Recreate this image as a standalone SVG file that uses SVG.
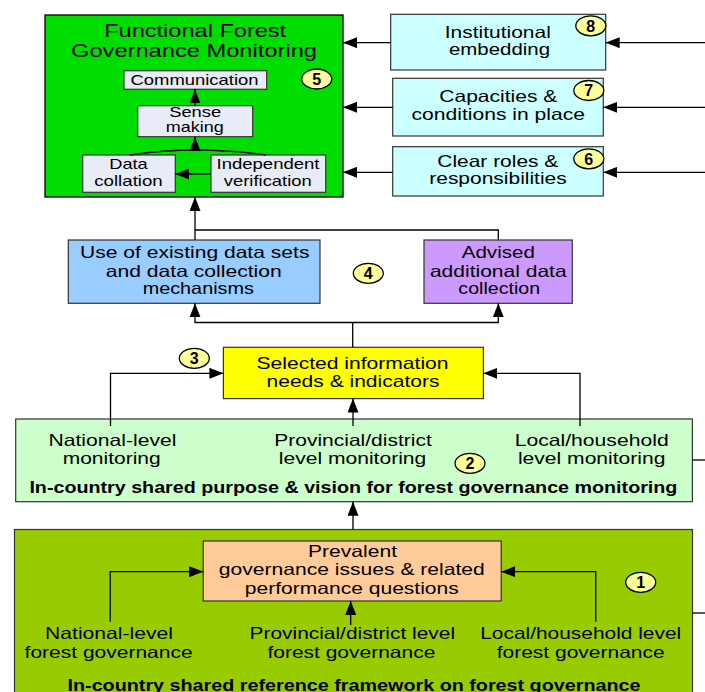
<svg xmlns="http://www.w3.org/2000/svg" width="705" height="692" viewBox="0 0 705 692">
<style>
text{font-family:"Liberation Sans",Arial,sans-serif;fill:#000;text-anchor:middle}
.t{font-size:16.5px}
.h{font-size:18.5px}
.s{font-size:14.5px}
.b{font-size:16px;font-weight:bold}
.n{font-size:16px;font-weight:bold}
.box{stroke:#333;stroke-width:1.2}
.badge{fill:#ffff99;stroke:#000;stroke-width:1.3}
.c{fill:none;stroke:#000;stroke-width:1.3}
</style>
<defs>
<marker id="ah" markerUnits="userSpaceOnUse" markerWidth="14" markerHeight="11" refX="14" refY="5.5" orient="auto">
<path d="M0,0 L14,5.5 L0,11 z" fill="#000"/>
</marker>
</defs>
<rect width="705" height="692" fill="#fff"/>

<g id="node1">
<rect class="box" x="14.5" y="529.5" width="678" height="170" fill="#99cc00"/>
<text class="b" x="354" y="690.5" textLength="573" lengthAdjust="spacingAndGlyphs">In-country shared reference framework on forest governance</text>
<text class="t" x="109" y="639.3" textLength="128" lengthAdjust="spacingAndGlyphs">National-level</text>
<text class="t" x="108.6" y="657.7" textLength="168" lengthAdjust="spacingAndGlyphs">forest governance</text>
<text class="t" x="352.3" y="639.3" textLength="205.5" lengthAdjust="spacingAndGlyphs">Provincial/district level</text>
<text class="t" x="351.4" y="657.7" textLength="168" lengthAdjust="spacingAndGlyphs">forest governance</text>
<text class="t" x="580.7" y="639.3" textLength="201" lengthAdjust="spacingAndGlyphs">Local/household level</text>
<text class="t" x="580.7" y="657.7" textLength="168" lengthAdjust="spacingAndGlyphs">forest governance</text>
<ellipse class="badge" cx="640.7" cy="582.3" rx="15" ry="10"/>
<text class="n" x="640.7" y="588">1</text>
</g>

<g id="node1a">
<rect class="box" x="203.2" y="541" width="298" height="60" fill="#ffcc99"/>
<text class="t" x="352.5" y="556.7" textLength="89" lengthAdjust="spacingAndGlyphs">Prevalent</text>
<text class="t" x="351.8" y="575.3" textLength="266" lengthAdjust="spacingAndGlyphs">governance issues &amp; related</text>
<text class="t" x="351.8" y="594" textLength="214" lengthAdjust="spacingAndGlyphs">performance questions</text>
</g>

<g id="node2">
<rect class="box" x="15.7" y="419" width="676.7" height="82.7" fill="#ccffcc"/>
<text class="t" x="112.4" y="446" textLength="128" lengthAdjust="spacingAndGlyphs">National-level</text>
<text class="t" x="111.7" y="464" textLength="98" lengthAdjust="spacingAndGlyphs">monitoring</text>
<text class="t" x="353" y="446" textLength="157.5" lengthAdjust="spacingAndGlyphs">Provincial/district</text>
<text class="t" x="352.5" y="464" textLength="147.5" lengthAdjust="spacingAndGlyphs">level monitoring</text>
<text class="t" x="591.7" y="446" textLength="154" lengthAdjust="spacingAndGlyphs">Local/household</text>
<text class="t" x="591.7" y="464" textLength="147.5" lengthAdjust="spacingAndGlyphs">level monitoring</text>
<text class="b" x="353.4" y="492.7" textLength="648" lengthAdjust="spacingAndGlyphs">In-country shared purpose &amp; vision for forest governance monitoring</text>
<ellipse class="badge" cx="470" cy="463.3" rx="15" ry="10"/>
<text class="n" x="470" y="469">2</text>
</g>

<g id="node3">
<rect class="box" x="223.4" y="347.3" width="260" height="51.3" fill="#ffff00"/>
<text class="t" x="352.5" y="369" textLength="192" lengthAdjust="spacingAndGlyphs">Selected information</text>
<text class="t" x="353" y="386.7" textLength="173" lengthAdjust="spacingAndGlyphs">needs &amp; indicators</text>
<ellipse class="badge" cx="194.3" cy="358.3" rx="15" ry="10"/>
<text class="n" x="194.3" y="364">3</text>
</g>

<g id="node4a">
<rect class="box" x="68.3" y="240" width="251.7" height="63.3" fill="#99ccff"/>
<text class="t" x="194.7" y="258.3" textLength="229.5" lengthAdjust="spacingAndGlyphs">Use of existing data sets</text>
<text class="t" x="193.8" y="276.7" textLength="176" lengthAdjust="spacingAndGlyphs">and data collection</text>
<text class="t" x="198.3" y="294.3" textLength="111.3" lengthAdjust="spacingAndGlyphs">mechanisms</text>
</g>

<g id="node4b">
<rect class="box" x="424" y="240" width="148.3" height="63.3" fill="#cc99ff"/>
<text class="t" x="498.3" y="258.3" textLength="73.3" lengthAdjust="spacingAndGlyphs">Advised</text>
<text class="t" x="498.3" y="276.7" textLength="136.7" lengthAdjust="spacingAndGlyphs">additional data</text>
<text class="t" x="499.2" y="294.3" textLength="81.7" lengthAdjust="spacingAndGlyphs">collection</text>
</g>

<g id="badge4">
<ellipse class="badge" cx="368.3" cy="273.3" rx="15" ry="10"/>
<text class="n" x="368.3" y="279">4</text>
</g>

<g id="node5">
<rect x="45" y="15" width="298" height="182" fill="#00dd00" stroke="#000" stroke-width="1.3"/>
<text class="h" x="195.2" y="36.7" textLength="182" lengthAdjust="spacingAndGlyphs">Functional Forest</text>
<text class="h" x="194" y="57.3" textLength="246" lengthAdjust="spacingAndGlyphs">Governance Monitoring</text>
<ellipse class="badge" cx="316.7" cy="79" rx="15" ry="10"/>
<text class="n" x="316.7" y="84.7">5</text>
</g>

<g id="node5a">
<rect class="box" x="124" y="70.7" width="142.7" height="18.6" fill="#e8ecf6"/>
<text x="194.5" y="85" style="font-size:15px" textLength="128" lengthAdjust="spacingAndGlyphs">Communication</text>
</g>
<g id="node5b">
<rect class="box" x="137.7" y="105.7" width="115" height="31" fill="#e8ecf6"/>
<text class="s" x="195.2" y="117" textLength="52" lengthAdjust="spacingAndGlyphs">Sense</text>
<text class="s" x="194.7" y="132" textLength="58" lengthAdjust="spacingAndGlyphs">making</text>
</g>
<g id="node5c">
<rect class="box" x="82.7" y="155" width="92.6" height="37.3" fill="#e8ecf6"/>
<text class="s" x="128.5" y="169" textLength="38.5" lengthAdjust="spacingAndGlyphs">Data</text>
<text class="s" x="128.5" y="186" textLength="68.5" lengthAdjust="spacingAndGlyphs">collation</text>
</g>
<g id="node5d">
<rect class="box" x="211" y="155" width="114.7" height="37.3" fill="#e8ecf6"/>
<text class="s" x="268" y="169" textLength="103" lengthAdjust="spacingAndGlyphs">Independent</text>
<text class="s" x="267.8" y="186" textLength="88" lengthAdjust="spacingAndGlyphs">verification</text>
</g>

<g id="node8">
<rect class="box" x="390.7" y="14.3" width="215" height="55.7" fill="#ccffff"/>
<text class="t" x="497.8" y="37.7" textLength="106" lengthAdjust="spacingAndGlyphs">Institutional</text>
<text class="t" x="499.5" y="55" textLength="101" lengthAdjust="spacingAndGlyphs">embedding</text>
<ellipse class="badge" cx="590.8" cy="25.8" rx="15" ry="10"/>
<text class="n" x="590.8" y="31.5">8</text>
</g>

<g id="node7">
<rect class="box" x="392.7" y="78.3" width="210.6" height="57.7" fill="#ccffff"/>
<text class="t" x="498.3" y="101.7" textLength="118" lengthAdjust="spacingAndGlyphs">Capacities &amp;</text>
<text class="t" x="498.3" y="120" textLength="173.5" lengthAdjust="spacingAndGlyphs">conditions in place</text>
<ellipse class="badge" cx="588.8" cy="90.5" rx="15" ry="10"/>
<text class="n" x="588.8" y="96.2">7</text>
</g>

<g id="node6">
<rect class="box" x="392.7" y="146.7" width="210.6" height="49.3" fill="#ccffff"/>
<text class="t" x="497.8" y="166.7" textLength="121" lengthAdjust="spacingAndGlyphs">Clear roles &amp;</text>
<text class="t" x="498" y="184.3" textLength="137.5" lengthAdjust="spacingAndGlyphs">responsibilities</text>
<ellipse class="badge" cx="588.8" cy="158.8" rx="15" ry="10"/>
<text class="n" x="588.8" y="164.5">6</text>
</g>

<g id="connectors">
<path class="c" d="M195,105.7 V89.3" marker-end="url(#ah)"/>
<path class="c" d="M130,155 Q195,145 266,155"/>
<path class="c" d="M195,150 V136.7" marker-end="url(#ah)"/>
<path class="c" d="M211,174 H175.3" marker-end="url(#ah)"/>
<path class="c" d="M390.7,42.7 H343" marker-end="url(#ah)"/>
<path class="c" d="M392.7,107.3 H343" marker-end="url(#ah)"/>
<path class="c" d="M392.7,172.3 H343" marker-end="url(#ah)"/>
<path class="c" d="M705,42.7 H605.7" marker-end="url(#ah)"/>
<path class="c" d="M705,107.3 H603.3" marker-end="url(#ah)"/>
<path class="c" d="M705,172.3 H603.3" marker-end="url(#ah)"/>
<path class="c" d="M195,240 V197" marker-end="url(#ah)"/>
<path class="c" d="M498.3,240 V230 H195"/>
<path class="c" d="M352.7,347.3 V322.5"/>
<path class="c" d="M352.7,322.5 H195 V303.3" marker-end="url(#ah)"/>
<path class="c" d="M352.7,322.5 H498.3 V303.3" marker-end="url(#ah)"/>
<path class="c" d="M110.5,426 V373.3 H223.4" marker-end="url(#ah)"/>
<path class="c" d="M580,426 V373.3 H483.4" marker-end="url(#ah)"/>
<path class="c" d="M353,426 V398.6" marker-end="url(#ah)"/>
<path class="c" d="M353,529.5 V501.7" marker-end="url(#ah)"/>
<path class="c" d="M110.2,621.7 V571.7 H203.2" marker-end="url(#ah)"/>
<path class="c" d="M595.8,621.7 V571.7 H501.2" marker-end="url(#ah)"/>
<path class="c" d="M350.7,625 V601" marker-end="url(#ah)"/>
<path class="c" d="M692.4,460 H705"/>
<path class="c" d="M692.4,613 H705"/>
</g>
</svg>
